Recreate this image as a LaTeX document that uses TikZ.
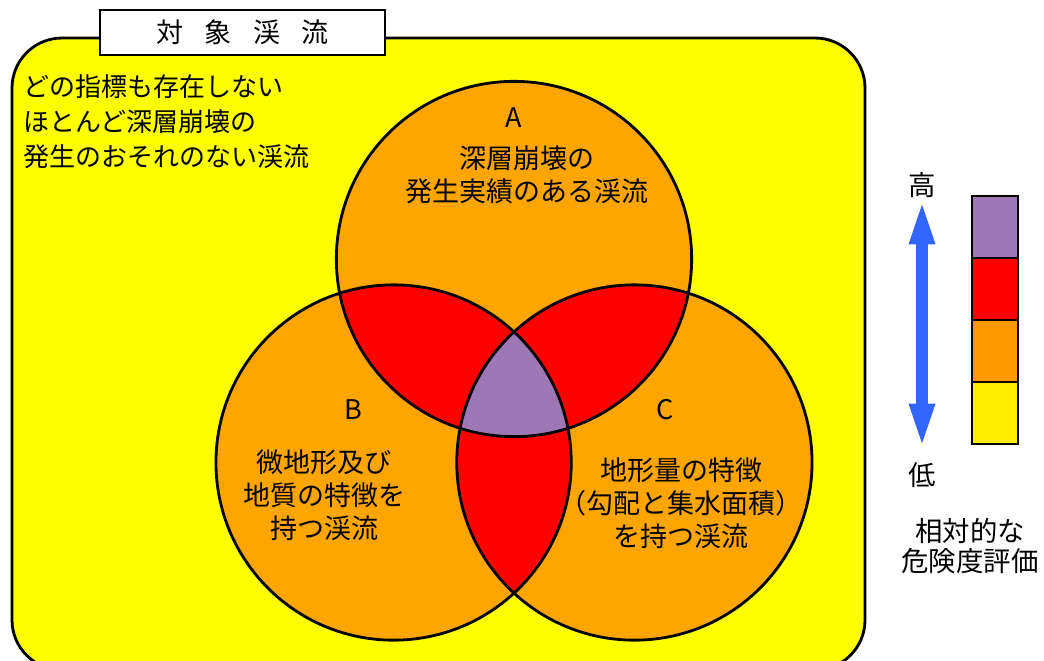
\documentclass[tikz,border=0pt]{standalone}
\usepackage{fontspec}
\usepackage{xcolor}
\usepackage{tikz}
\usetikzlibrary{
    positioning,
    calc,
    arrows.meta
}
\newfontfamily\jpfont{Noto Sans CJK JP}
\definecolor{bgyellow}{HTML}{FFFF00}
\definecolor{setorange}{HTML}{FFA500}
\definecolor{setred}{HTML}{FF0000}
\definecolor{setpurple}{HTML}{9E78B4}
\definecolor{keyorange}{HTML}{FF9900}
\definecolor{keyyellow}{HTML}{FFEE00}
\definecolor{arrowblue}{HTML}{3366FF}
\newcommand{\setrad}{4.44cm}
\tikzset{
  basic/.style = {
      font=\jpfont\fontsize{19.2pt}{23.5pt}\selectfont,
      align=center,
      inner sep=0pt
  },
  note/.style = {
      basic,
      align=left,
      font=\jpfont\fontsize{18.5pt}{24.9pt}\selectfont
  },
  heading/.style = {
      basic,
      draw,
      fill=white,
      line width=1.6pt,
      minimum width=7.125cm,
      minimum height=1.125cm
  },
  keytext/.style = {
      basic,
      font=\jpfont\fontsize{19.5pt}{21.3pt}\selectfont
  },
  keybox/.style = {
      draw,
      line width=1.6pt,
      minimum width=1.15cm,
      minimum height=1.55cm,
      inner sep=0pt,
      outer sep=0pt
  },
  setline/.style = {
      draw,
      line width=2pt
  },
  riskarrow/.style = {
      arrowblue,
      line width=8.5pt,
      {Triangle[length=33pt,width=16pt]}-{Triangle[length=33pt,width=16pt]},
      shorten <=0.325cm,
      shorten >=0.625cm
  }
}
\begin{document}
\begin{tikzpicture}[x=0.025cm, y=-0.025cm]
    \clip (0,0) rectangle (1044,660);
    \fill[white] (0,0) rectangle (1044,660);
    % Frame
    \draw[line width=2pt, fill=bgyellow, rounded corners=1.25cm] (12,38) rectangle (865,670);
    \node[heading] (title) at (242.5,32.5) {対\hspace{0.8em}象\hspace{0.8em}渓\hspace{0.8em}流};
    % Sets
    \coordinate (cA) at (514,259);
    \coordinate (cB) at (393.6,462.5);
    \coordinate (cC) at (634.4,462.5);
    \fill[setorange] (cA) circle[radius=\setrad] (cB) circle[radius=\setrad] (cC) circle[radius=\setrad];
    \begin{scope}
        \clip (cA) circle[radius=\setrad];
        \fill[setred] (cB) circle[radius=\setrad] (cC) circle[radius=\setrad];
    \end{scope}
    \begin{scope}
        \clip (cB) circle[radius=\setrad];
        \fill[setred] (cC) circle[radius=\setrad];
    \end{scope}
    \begin{scope}
        \clip (cA) circle[radius=\setrad];
        \clip (cB) circle[radius=\setrad];
        \fill[setpurple] (cC) circle[radius=\setrad];
    \end{scope}
    \path[setline] (cA) circle[radius=\setrad] (cB) circle[radius=\setrad] (cC) circle[radius=\setrad];
    % Nodes
    \node[note, anchor=west] (none) at (23,122) {どの指標も存在しない\\ほとんど深層崩壊の\\発生のおそれのない渓流};
    \node[basic] (labA) at (514,118) {A};
    \node[basic] (txtA) at (527,175) {深層崩壊の\\発生実績のある渓流};
    \node[basic] (labB) at (353,410) {B};
    \node[basic] (txtB) at (324,495) {微地形及び\\地質の特徴を\\持つ渓流};
    \node[basic] (labC) at (665,410) {C};
    \node[basic] (txtC) at (681,503) {地形量の特徴\\（勾配と集水面積）\\を持つ渓流};
    % Key
    \node[keytext] (hi) at (922,185) {高};
    \node[keytext] (lo) at (922,475) {低};
    \node[keybox, fill=setpurple] (k4) at (995,227) {};
    \node[keybox, fill=setred, below=0pt of k4] (k3) {};
    \node[keybox, fill=keyorange, below=0pt of k3] (k2) {};
    \node[keybox, fill=keyyellow, below=0pt of k2] (k1) {};
    \node[keytext] (keyname) at (970,546) {相対的な\\危険度評価};
    % Edges
    \draw[riskarrow] (hi.center) -- (lo.center);
\end{tikzpicture}
\end{document}
